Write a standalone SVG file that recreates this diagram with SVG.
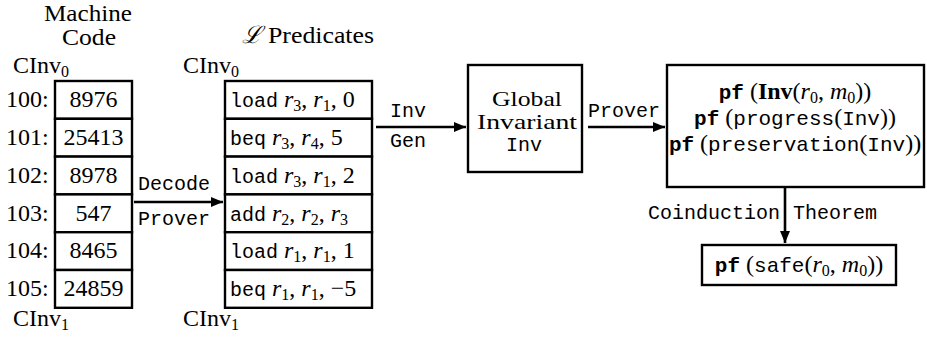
<svg xmlns="http://www.w3.org/2000/svg" width="927" height="337" viewBox="0 0 927 337">
<defs>
<style>
.s{font-family:"Liberation Serif","DejaVu Serif",serif;font-size:24px;fill:#000}
.m{font-family:"Liberation Mono","DejaVu Sans Mono",monospace;font-size:20px;fill:#000}
.mf{font-family:"Liberation Mono","DejaVu Sans Mono",monospace;font-size:20px}
.mr{font-family:"Liberation Mono","DejaVu Sans Mono",monospace;font-size:21px}
.bd{font-weight:bold}
.i{font-style:italic}
.sub{font-size:16px}
.box{fill:#fff;stroke:#000;stroke-width:2.4}
.ln{stroke:#000;stroke-width:2.6;fill:none}
</style>
<marker id="ah" viewBox="0 0 12 10" refX="12" refY="5" markerWidth="12" markerHeight="10" markerUnits="userSpaceOnUse" orient="auto">
<path d="M0,0 L12,5 L0,10 z" fill="#000"/>
</marker>
</defs>

<g id="labels">
<text class="s" x="88" y="21" text-anchor="middle" textLength="88" lengthAdjust="spacingAndGlyphs">Machine</text>
<text class="s" x="89" y="45" text-anchor="middle" textLength="54" lengthAdjust="spacingAndGlyphs">Code</text>
<text class="s" x="242" y="43"><tspan font-family="DejaVu Serif" font-style="italic">ℒ</tspan> <tspan textLength="106" lengthAdjust="spacingAndGlyphs">Predicates</tspan></text>
<text class="s" x="13" y="73">CInv<tspan class="sub" dy="4">0</tspan></text>
<text class="s" x="183" y="73">CInv<tspan class="sub" dy="4">0</tspan></text>
<text class="s" x="13" y="326">CInv<tspan class="sub" dy="4">1</tspan></text>
<text class="s" x="183" y="326">CInv<tspan class="sub" dy="4">1</tspan></text>
</g>

<g id="machine-code">
<rect class="box" x="55" y="81" width="77" height="37.8"/>
<rect class="box" x="55" y="118.8" width="77" height="37.8"/>
<rect class="box" x="55" y="156.6" width="77" height="37.8"/>
<rect class="box" x="55" y="194.4" width="77" height="37.8"/>
<rect class="box" x="55" y="232.2" width="77" height="37.8"/>
<rect class="box" x="55" y="270" width="77" height="37.8"/>
<text class="s" x="6" y="107">100:</text>
<text class="s" x="6" y="145">101:</text>
<text class="s" x="6" y="183">102:</text>
<text class="s" x="6" y="221">103:</text>
<text class="s" x="6" y="258">104:</text>
<text class="s" x="6" y="296">105:</text>
<text class="s" x="93.5" y="107" text-anchor="middle">8976</text>
<text class="s" x="93.5" y="145" text-anchor="middle">25413</text>
<text class="s" x="93.5" y="183" text-anchor="middle">8978</text>
<text class="s" x="93.5" y="221" text-anchor="middle">547</text>
<text class="s" x="93.5" y="258" text-anchor="middle">8465</text>
<text class="s" x="93.5" y="296" text-anchor="middle">24859</text>
</g>

<g id="predicates">
<rect class="box" x="225" y="81" width="147" height="37.8"/>
<rect class="box" x="225" y="118.8" width="147" height="37.8"/>
<rect class="box" x="225" y="156.6" width="147" height="37.8"/>
<rect class="box" x="225" y="194.4" width="147" height="37.8"/>
<rect class="box" x="225" y="232.2" width="147" height="37.8"/>
<rect class="box" x="225" y="270" width="147" height="37.8"/>
<text class="s" x="230" y="107"><tspan class="mf">load</tspan> <tspan class="i">r</tspan><tspan class="sub" dy="4">3</tspan><tspan dy="-4">, </tspan><tspan class="i">r</tspan><tspan class="sub" dy="4">1</tspan><tspan dy="-4">, 0</tspan></text>
<text class="s" x="230" y="145"><tspan class="mf">beq</tspan> <tspan class="i">r</tspan><tspan class="sub" dy="4">3</tspan><tspan dy="-4">, </tspan><tspan class="i">r</tspan><tspan class="sub" dy="4">4</tspan><tspan dy="-4">, 5</tspan></text>
<text class="s" x="230" y="183"><tspan class="mf">load</tspan> <tspan class="i">r</tspan><tspan class="sub" dy="4">3</tspan><tspan dy="-4">, </tspan><tspan class="i">r</tspan><tspan class="sub" dy="4">1</tspan><tspan dy="-4">, 2</tspan></text>
<text class="s" x="230" y="221"><tspan class="mf">add</tspan> <tspan class="i">r</tspan><tspan class="sub" dy="4">2</tspan><tspan dy="-4">, </tspan><tspan class="i">r</tspan><tspan class="sub" dy="4">2</tspan><tspan dy="-4">, </tspan><tspan class="i">r</tspan><tspan class="sub" dy="4">3</tspan></text>
<text class="s" x="230" y="258"><tspan class="mf">load</tspan> <tspan class="i">r</tspan><tspan class="sub" dy="4">1</tspan><tspan dy="-4">, </tspan><tspan class="i">r</tspan><tspan class="sub" dy="4">1</tspan><tspan dy="-4">, 1</tspan></text>
<text class="s" x="230" y="296"><tspan class="mf">beq</tspan> <tspan class="i">r</tspan><tspan class="sub" dy="4">1</tspan><tspan dy="-4">, </tspan><tspan class="i">r</tspan><tspan class="sub" dy="4">1</tspan><tspan dy="-4">, −5</tspan></text>
</g>

<g id="global-invariant">
<rect class="box" x="468" y="65" width="114" height="107"/>
<text class="s" x="527" y="106" text-anchor="middle" font-size="22" textLength="70" lengthAdjust="spacingAndGlyphs" style="font-size:22px">Global</text>
<text class="s" x="527" y="129" text-anchor="middle" textLength="100" lengthAdjust="spacingAndGlyphs" style="font-size:22px">Invariant</text>
<text class="m" x="524" y="151" text-anchor="middle">Inv</text>
</g>

<g id="proofs">
<rect class="box" x="667" y="65" width="257" height="122"/>
<text class="s" x="795" y="99" text-anchor="middle"><tspan class="mr bd">pf</tspan> (<tspan class="bd">Inv</tspan>(<tspan class="i">r</tspan><tspan class="sub" dy="4">0</tspan><tspan dy="-4">, </tspan><tspan class="i">m</tspan><tspan class="sub" dy="4">0</tspan><tspan dy="-4">))</tspan></text>
<text class="s" x="795" y="125" text-anchor="middle"><tspan class="mr bd">pf</tspan> (<tspan class="mr">progress</tspan>(<tspan class="mr">Inv</tspan>))</text>
<text class="s" x="795" y="151" text-anchor="middle"><tspan class="mr bd">pf</tspan> (<tspan class="mr">preservation</tspan>(<tspan class="mr">Inv</tspan>))</text>
</g>

<g id="safe">
<rect class="box" x="702" y="245" width="194" height="40"/>
<text class="s" x="799" y="272" text-anchor="middle"><tspan class="mr bd">pf</tspan> (<tspan class="mr">safe</tspan>(<tspan class="i">r</tspan><tspan class="sub" dy="4">0</tspan><tspan dy="-4">, </tspan><tspan class="i">m</tspan><tspan class="sub" dy="4">0</tspan><tspan dy="-4">))</tspan></text>
</g>

<g id="connectors">
<line class="ln" x1="134" y1="202" x2="223" y2="202" marker-end="url(#ah)"/>
<line class="ln" x1="376" y1="127" x2="466" y2="127" marker-end="url(#ah)"/>
<line class="ln" x1="588" y1="127" x2="665" y2="127" marker-end="url(#ah)"/>
<line class="ln" x1="785" y1="187" x2="785" y2="243" marker-end="url(#ah)"/>
<text class="m" x="138" y="190">Decode</text>
<text class="m" x="138" y="225">Prover</text>
<text class="m" x="390" y="117">Inv</text>
<text class="m" x="390" y="147">Gen</text>
<text class="m" x="588" y="117">Prover</text>
<text class="m" x="780" y="219" text-anchor="end">Coinduction</text>
<text class="m" x="793" y="219">Theorem</text>
</g>
</svg>
